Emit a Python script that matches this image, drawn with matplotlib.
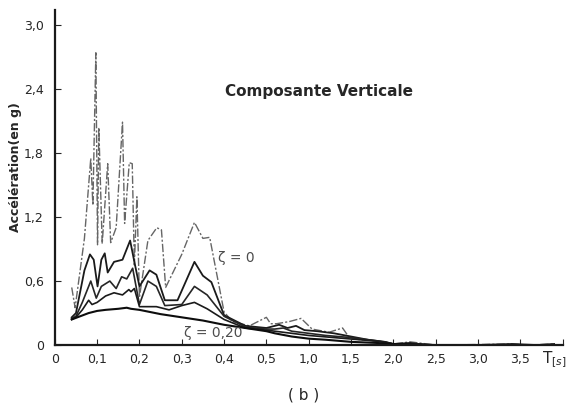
import numpy as np
import matplotlib
matplotlib.use("Agg")
import matplotlib.pyplot as plt
import matplotlib.transforms as mtransforms

# spectre de reponse, composante verticale
t_z0 = [0.040, 0.048, 0.070, 0.085, 0.090, 0.097, 0.101, 0.104, 0.112, 0.125, 0.132,
        0.145, 0.160, 0.165, 0.176, 0.183, 0.188, 0.194, 0.200, 0.220, 0.241, 0.252,
        0.262, 0.300, 0.330, 0.350, 0.366, 0.400, 0.420, 0.460, 0.500, 0.550, 0.620,
        0.770, 0.910, 1.040, 1.240, 1.400, 1.480, 1.600, 1.800, 2.000, 2.200, 2.500,
        3.000, 3.400, 3.600, 3.900]
a_z0 = [0.54, 0.35, 1.00, 1.75, 1.31, 2.74, 0.94, 2.04, 0.95, 1.70, 0.96,
        1.10, 2.09, 1.14, 1.71, 1.70, 0.75, 1.39, 0.45, 0.98, 1.10, 1.08,
        0.54, 0.85, 1.15, 1.00, 1.01, 0.31, 0.22, 0.18, 0.26, 0.20, 0.20,
        0.22, 0.25, 0.15, 0.12, 0.16, 0.07, 0.05, 0.04, 0.01, 0.03, 0.00,
        0.005, 0.01, 0.00, 0.01]

t_z1 = [0.040, 0.050, 0.070, 0.083, 0.092, 0.101, 0.110, 0.118, 0.125, 0.140, 0.160,
        0.178, 0.186, 0.200, 0.224, 0.240, 0.260, 0.290, 0.330, 0.350, 0.370, 0.400,
        0.450, 0.500, 0.550, 0.650, 0.750, 0.850, 0.950, 1.100, 1.300, 1.500, 1.700,
        1.900, 2.000, 2.200, 2.400, 3.000, 3.400, 3.700, 3.900]
a_z1 = [0.26, 0.30, 0.70, 0.85, 0.80, 0.55, 0.80, 0.86, 0.68, 0.78, 0.80,
        0.98, 0.82, 0.55, 0.70, 0.66, 0.42, 0.42, 0.78, 0.65, 0.59, 0.28,
        0.18, 0.16, 0.17, 0.19, 0.16, 0.18, 0.14, 0.13, 0.11, 0.08, 0.05,
        0.03, 0.01, 0.02, 0.00, 0.00, 0.01, 0.00, 0.01]

t_z2 = [0.040, 0.050, 0.065, 0.080, 0.085, 0.098, 0.110, 0.130, 0.145, 0.158, 0.170,
        0.184, 0.192, 0.200, 0.220, 0.240, 0.260, 0.300, 0.330, 0.360, 0.400, 0.450,
        0.500, 0.600, 0.700, 0.800, 1.000, 1.200, 1.500, 1.800, 2.000, 2.300, 2.500,
        3.900]
a_z2 = [0.25, 0.27, 0.40, 0.55, 0.60, 0.44, 0.55, 0.60, 0.53, 0.64, 0.62,
        0.72, 0.55, 0.38, 0.60, 0.55, 0.37, 0.38, 0.55, 0.47, 0.27, 0.17,
        0.15, 0.15, 0.16, 0.13, 0.11, 0.09, 0.07, 0.04, 0.01, 0.01, 0.00,
        0.00]

t_z3 = [0.040, 0.050, 0.065, 0.080, 0.088, 0.100, 0.120, 0.140, 0.160, 0.175, 0.180,
        0.188, 0.200, 0.240, 0.270, 0.300, 0.330, 0.360, 0.400, 0.450, 0.500, 0.600,
        0.800, 1.000, 1.300, 1.600, 1.900, 2.000, 2.500, 3.900]
a_z3 = [0.24, 0.26, 0.33, 0.42, 0.38, 0.40, 0.46, 0.49, 0.47, 0.52, 0.50,
        0.53, 0.36, 0.36, 0.33, 0.37, 0.40, 0.34, 0.24, 0.16, 0.14, 0.13,
        0.11, 0.09, 0.07, 0.05, 0.03, 0.01, 0.00, 0.00]

t_z20 = [0.040, 0.060, 0.080, 0.100, 0.120, 0.150, 0.170, 0.180, 0.200, 0.250, 0.300,
         0.350, 0.400, 0.450, 0.500, 0.600, 0.800, 1.000, 1.200, 1.500, 1.800, 2.000,
         2.500, 3.000, 3.500, 3.900]
a_z20 = [0.24, 0.27, 0.30, 0.32, 0.33, 0.34, 0.35, 0.34, 0.33, 0.29, 0.26,
         0.23, 0.19, 0.16, 0.13, 0.11, 0.08, 0.06, 0.05, 0.03, 0.02, 0.01,
         0.00, 0.00, 0.00, 0.00]

xticks = [0, 0.1, 0.2, 0.3, 0.4, 0.5, 1.0, 1.5, 2.0, 2.5, 3.0, 3.5, 4.0]
xticklabels = ["0", "0,1", "0,2", "0,3", "0,4", "0,5", "1,0", "1,5", "2,0",
               "2,5", "3,0", "3,5", ""]
yticks = [0, 0.6, 1.2, 1.8, 2.4, 3.0]
yticklabels = ["0", "0,6", "1,2", "1,8", "2,4", "3,0"]


# echelle des abscisses : 0,1 s par graduation jusqu'a 0,5 s, puis 0,5 s
def fwd(t):
    t = np.asarray(t, dtype=float)
    return np.where(t <= 0.5, t * 10.0, 5.0 + (t - 0.5) * 2.0)


def inv(u):
    u = np.asarray(u, dtype=float)
    return np.where(u <= 5.0, u / 10.0, 0.5 + (u - 5.0) / 2.0)


fig = plt.figure(figsize=(5.83, 4.05), dpi=100)
ax = fig.add_axes([0.094, 0.148, 0.871, 0.827])
ax.set_xscale("function", functions=(fwd, inv))

ax.plot(t_z0, a_z0, color="0.4", lw=1.0, ls=(0, (6, 1.5, 1.5, 1.5)))
ax.plot(t_z1, a_z1, color="0.1", lw=1.3)
ax.plot(t_z2, a_z2, color="0.15", lw=1.2)
ax.plot(t_z3, a_z3, color="0.1", lw=1.2)
ax.plot(t_z20, a_z20, color="0.05", lw=1.5)

ax.set_xlim(0, 4.0)
ax.set_ylim(0, 3.14)
ax.set_xticks(xticks)
ax.set_xticklabels(xticklabels)
ax.set_yticks(yticks)
ax.set_yticklabels(yticklabels)
ax.minorticks_off()
ax.tick_params(direction="in", length=4, width=0.8, labelsize=9, colors="0.15",
               pad=6)
ax.tick_params(axis="y", pad=8)

for s in ["top", "right"]:
    ax.spines[s].set_visible(False)
for s in ["left", "bottom"]:
    ax.spines[s].set_linewidth(1.6)
    ax.spines[s].set_color("0.1")

ax.set_ylabel("Accélération(en g)", fontsize=9, fontweight="bold", color="0.15",
              labelpad=10)
ax.yaxis.set_label_coords(-0.065, 0.53)

ax.text(0.52, 0.758, "Composante Verticale", transform=ax.transAxes,
        fontsize=11, fontweight="bold", ha="center", va="center", color="0.15")
ax.text(0.322, 0.26, "ζ = 0", transform=ax.transAxes, fontsize=10,
        ha="left", va="center", color="0.3")
ax.text(0.255, 0.035, "ζ = 0,20", transform=ax.transAxes, fontsize=10,
        ha="left", va="center", color="0.3")

trans = mtransforms.blended_transform_factory(ax.transData, ax.transAxes)
ax.text(3.9, -0.045, "T$_{[s]}$", transform=trans, fontsize=11,
        ha="center", va="center", color="0.15")
fig.text(0.52, 0.025, "( b )", fontsize=11, ha="center", va="center", color="0.15")

fig.savefig("out.png", dpi=100)
